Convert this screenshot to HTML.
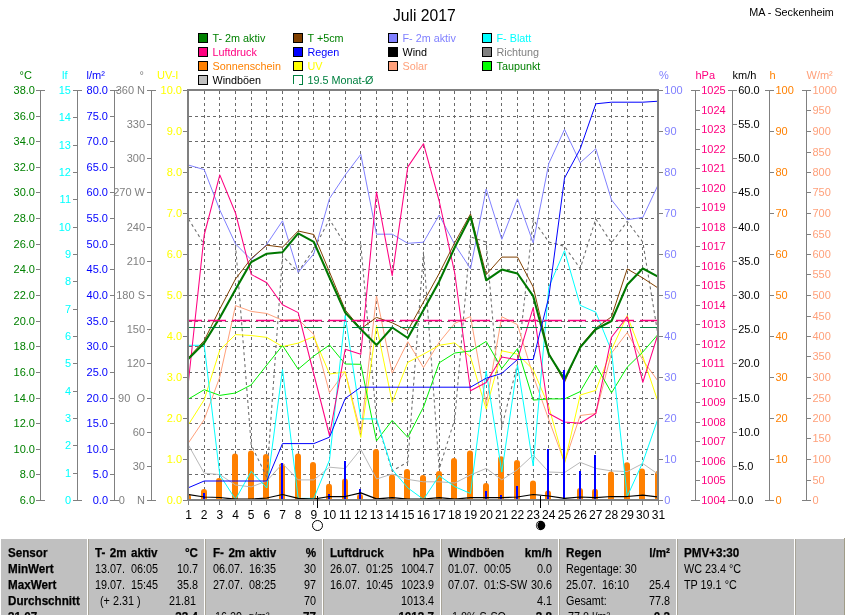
<!DOCTYPE html>
<html><head><meta charset="utf-8"><title>Juli 2017</title>
<style>
html,body{margin:0;padding:0;background:#fff;}
body{width:845px;height:615px;overflow:hidden;position:relative;font-family:"Liberation Sans",sans-serif;}
svg{position:absolute;left:0;top:0;}
#w{position:absolute;left:0;top:0;width:845px;height:615px;will-change:transform;}
text{font-family:"Liberation Sans",sans-serif;font-size:11px;}
.t{position:absolute;white-space:pre;font-size:12px;line-height:16px;color:#000;transform:scaleX(0.9);transform-origin:0 0;}
.b{font-weight:bold;transform:scaleX(0.97);word-spacing:1.2px;-webkit-text-stroke:0.25px #000;}
.r{text-align:right;transform-origin:100% 0;}
</style></head><body><div id="w">
<svg width="845" height="615" viewBox="0 0 845 615">

<text x="424.3" y="21" text-anchor="middle" style="font-size:15.7px" fill="#000">Juli 2017</text>
<text x="833.8" y="16" text-anchor="end" style="font-size:10.8px" fill="#000">MA - Seckenheim</text>
<rect x="198.5" y="33.5" width="9" height="9" fill="#008000" stroke="#000" stroke-width="1" shape-rendering="crispEdges"/>
<text x="212.5" y="41.5" fill="#008000" style="font-size:10.8px">T- 2m aktiv</text>
<rect x="198.5" y="47.5" width="9" height="9" fill="#FF0080" stroke="#000" stroke-width="1" shape-rendering="crispEdges"/>
<text x="212.5" y="55.5" fill="#FF0080" style="font-size:10.8px">Luftdruck</text>
<rect x="198.5" y="61.5" width="9" height="9" fill="#FF8000" stroke="#000" stroke-width="1" shape-rendering="crispEdges"/>
<text x="212.5" y="69.5" fill="#FF8000" style="font-size:10.8px">Sonnenschein</text>
<rect x="198.5" y="75.5" width="9" height="9" fill="#C0C0C0" stroke="#000" stroke-width="1" shape-rendering="crispEdges"/>
<text x="212.5" y="83.5" fill="#000" style="font-size:10.8px">Windböen</text>
<rect x="293.0" y="33.5" width="9" height="9" fill="#804000" stroke="#000" stroke-width="1" shape-rendering="crispEdges"/>
<text x="307.5" y="41.5" fill="#008000" style="font-size:10.8px">T +5cm</text>
<rect x="293.0" y="47.5" width="9" height="9" fill="#0000FF" stroke="#000" stroke-width="1" shape-rendering="crispEdges"/>
<text x="307.5" y="55.5" fill="#0000FF" style="font-size:10.8px">Regen</text>
<rect x="293.0" y="61.5" width="9" height="9" fill="#FFFF00" stroke="#000" stroke-width="1" shape-rendering="crispEdges"/>
<text x="307.5" y="69.5" fill="#FFFF00" style="font-size:10.8px">UV</text>
<path d="M293.5 84.0 v-8.5 h9 v9 h-3.5" fill="none" stroke="#008040" stroke-width="1" shape-rendering="crispEdges"/>
<text x="307.5" y="83.5" fill="#008040" style="font-size:10.8px">19.5 Monat-Ø</text>
<rect x="388.5" y="33.5" width="9" height="9" fill="#8080FF" stroke="#000" stroke-width="1" shape-rendering="crispEdges"/>
<text x="402.5" y="41.5" fill="#8080FF" style="font-size:10.8px">F- 2m aktiv</text>
<rect x="388.5" y="47.5" width="9" height="9" fill="#000000" stroke="#000" stroke-width="1" shape-rendering="crispEdges"/>
<text x="402.5" y="55.5" fill="#000" style="font-size:10.8px">Wind</text>
<rect x="388.5" y="61.5" width="9" height="9" fill="#FFA07A" stroke="#000" stroke-width="1" shape-rendering="crispEdges"/>
<text x="402.5" y="69.5" fill="#FFA07A" style="font-size:10.8px">Solar</text>
<rect x="482.0" y="33.5" width="9" height="9" fill="#00FFFF" stroke="#000" stroke-width="1" shape-rendering="crispEdges"/>
<text x="496.5" y="41.5" fill="#00FFFF" style="font-size:10.8px">F- Blatt</text>
<rect x="482.0" y="47.5" width="9" height="9" fill="#808080" stroke="#000" stroke-width="1" shape-rendering="crispEdges"/>
<text x="496.5" y="55.5" fill="#808080" style="font-size:10.8px">Richtung</text>
<rect x="482.0" y="61.5" width="9" height="9" fill="#00FF00" stroke="#000" stroke-width="1" shape-rendering="crispEdges"/>
<text x="496.5" y="69.5" fill="#008000" style="font-size:10.8px">Taupunkt</text>
<g stroke="#6a6a6a" stroke-width="1" stroke-dasharray="3 3" shape-rendering="crispEdges">
<line x1="204.5" y1="91" x2="204.5" y2="499"/>
<line x1="219.5" y1="91" x2="219.5" y2="499"/>
<line x1="235.5" y1="91" x2="235.5" y2="499"/>
<line x1="251.5" y1="91" x2="251.5" y2="499"/>
<line x1="266.5" y1="91" x2="266.5" y2="499"/>
<line x1="282.5" y1="91" x2="282.5" y2="499"/>
<line x1="298.5" y1="91" x2="298.5" y2="499"/>
<line x1="313.5" y1="91" x2="313.5" y2="499"/>
<line x1="329.5" y1="91" x2="329.5" y2="499"/>
<line x1="345.5" y1="91" x2="345.5" y2="499"/>
<line x1="360.5" y1="91" x2="360.5" y2="499"/>
<line x1="376.5" y1="91" x2="376.5" y2="499"/>
<line x1="392.5" y1="91" x2="392.5" y2="499"/>
<line x1="407.5" y1="91" x2="407.5" y2="499"/>
<line x1="423.5" y1="91" x2="423.5" y2="499"/>
<line x1="439.5" y1="91" x2="439.5" y2="499"/>
<line x1="454.5" y1="91" x2="454.5" y2="499"/>
<line x1="470.5" y1="91" x2="470.5" y2="499"/>
<line x1="486.5" y1="91" x2="486.5" y2="499"/>
<line x1="501.5" y1="91" x2="501.5" y2="499"/>
<line x1="517.5" y1="91" x2="517.5" y2="499"/>
<line x1="533.5" y1="91" x2="533.5" y2="499"/>
<line x1="548.5" y1="91" x2="548.5" y2="499"/>
<line x1="564.5" y1="91" x2="564.5" y2="499"/>
<line x1="580.5" y1="91" x2="580.5" y2="499"/>
<line x1="595.5" y1="91" x2="595.5" y2="499"/>
<line x1="611.5" y1="91" x2="611.5" y2="499"/>
<line x1="627.5" y1="91" x2="627.5" y2="499"/>
<line x1="642.5" y1="91" x2="642.5" y2="499"/>
<line x1="189" y1="116.5" x2="657" y2="116.5"/>
<line x1="189" y1="141.5" x2="657" y2="141.5"/>
<line x1="189" y1="167.5" x2="657" y2="167.5"/>
<line x1="189" y1="192.5" x2="657" y2="192.5"/>
<line x1="189" y1="218.5" x2="657" y2="218.5"/>
<line x1="189" y1="244.5" x2="657" y2="244.5"/>
<line x1="189" y1="269.5" x2="657" y2="269.5"/>
<line x1="189" y1="295.5" x2="657" y2="295.5"/>
<line x1="189" y1="321.5" x2="657" y2="321.5"/>
<line x1="189" y1="346.5" x2="657" y2="346.5"/>
<line x1="189" y1="372.5" x2="657" y2="372.5"/>
<line x1="189" y1="398.5" x2="657" y2="398.5"/>
<line x1="189" y1="423.5" x2="657" y2="423.5"/>
<line x1="189" y1="449.5" x2="657" y2="449.5"/>
<line x1="189" y1="474.5" x2="657" y2="474.5"/>
</g>
<defs><clipPath id="pc"><rect x="189" y="91" width="468" height="408"/></clipPath></defs>
<g clip-path="url(#pc)">
<g stroke="#FF8000" stroke-width="6" stroke-linecap="round">
<line x1="188.0" y1="497.0" x2="188.0" y2="504"/>
<line x1="204.0" y1="492.0" x2="204.0" y2="504"/>
<line x1="219.0" y1="481.0" x2="219.0" y2="504"/>
<line x1="235.0" y1="456.6" x2="235.0" y2="504"/>
<line x1="251.0" y1="453.6" x2="251.0" y2="504"/>
<line x1="266.0" y1="457.0" x2="266.0" y2="504"/>
<line x1="282.0" y1="466.3" x2="282.0" y2="504"/>
<line x1="298.0" y1="456.6" x2="298.0" y2="504"/>
<line x1="313.0" y1="465.0" x2="313.0" y2="504"/>
<line x1="329.0" y1="486.8" x2="329.0" y2="504"/>
<line x1="345.0" y1="481.5" x2="345.0" y2="504"/>
<line x1="360.0" y1="497.0" x2="360.0" y2="504"/>
<line x1="376.0" y1="451.9" x2="376.0" y2="504"/>
<line x1="392.0" y1="477.5" x2="392.0" y2="504"/>
<line x1="407.0" y1="472.1" x2="407.0" y2="504"/>
<line x1="423.0" y1="478.0" x2="423.0" y2="504"/>
<line x1="439.0" y1="473.9" x2="439.0" y2="504"/>
<line x1="454.0" y1="460.9" x2="454.0" y2="504"/>
<line x1="470.0" y1="453.6" x2="470.0" y2="504"/>
<line x1="486.0" y1="486.0" x2="486.0" y2="504"/>
<line x1="501.0" y1="459.2" x2="501.0" y2="504"/>
<line x1="517.0" y1="462.9" x2="517.0" y2="504"/>
<line x1="533.0" y1="483.6" x2="533.0" y2="504"/>
<line x1="548.0" y1="493.4" x2="548.0" y2="504"/>
<line x1="580.0" y1="491.0" x2="580.0" y2="504"/>
<line x1="595.0" y1="491.7" x2="595.0" y2="504"/>
<line x1="611.0" y1="474.6" x2="611.0" y2="504"/>
<line x1="627.0" y1="465.3" x2="627.0" y2="504"/>
<line x1="642.0" y1="471.4" x2="642.0" y2="504"/>
<line x1="658.0" y1="473.8" x2="658.0" y2="504"/>
</g>
<polyline points="188.5,219.0 204.2,244.5" fill="none" stroke="#6c6c6c" stroke-width="1.05" stroke-linejoin="round" stroke-dasharray="3 3"/>
<polyline points="235.5,244.5 251.2,445.0 266.8,477.0 282.5,256.0 298.2,272.0 313.8,249.0 329.5,219.5 345.2,244.5" fill="none" stroke="#6c6c6c" stroke-width="1.05" stroke-linejoin="round" stroke-dasharray="3 3"/>
<polyline points="360.8,244.5 376.5,420.0 392.2,471.0 407.8,462.0 423.5,252.0 439.2,469.0 454.8,419.0 470.5,237.0 486.2,242.0 501.8,427.0 517.5,364.0 533.2,219.7 548.8,242.0 564.5,246.3 580.2,268.6 595.8,218.9 611.5,242.9 627.2,221.4 642.8,242.0 658.5,338.0" fill="none" stroke="#6c6c6c" stroke-width="1.05" stroke-linejoin="round" stroke-dasharray="3 3"/>
<polyline points="188.5,445.2 204.2,473.2 219.8,474.6 235.5,485.0 251.2,486.9 266.8,481.0 282.5,463.6 298.2,479.9 313.8,479.9 329.5,467.2 345.2,468.6 360.8,449.2 376.5,479.0 392.2,474.0 407.8,479.4 423.5,481.8 439.2,481.8 454.8,483.0 470.5,475.0 486.2,468.4 501.8,479.9 517.5,469.6 533.2,455.0 548.8,472.0 564.5,472.6 580.2,462.3 595.8,468.4 611.5,470.9 627.2,471.6 642.8,463.5 658.5,474.5" fill="none" stroke="#B8B8B8" stroke-width="1" stroke-linejoin="round" />
<polyline points="188.5,442.8 204.2,419.6 219.8,377.0 235.5,305.6 251.2,311.4 266.8,313.5 282.5,320.3 298.2,319.3 313.8,334.5 329.5,392.7 345.2,371.5 360.8,433.0 376.5,296.0 392.2,373.1 407.8,341.7 423.5,367.6 439.2,342.3 454.8,323.3 470.5,316.5 486.2,404.5 501.8,316.7 517.5,324.7 533.2,375.7 548.8,419.6 564.5,462.3 580.2,415.5 595.8,413.5 611.5,353.1 627.2,332.6 642.8,360.0 658.5,381.8" fill="none" stroke="#FFA07A" stroke-width="1" stroke-linejoin="round" />
<polyline points="188.5,424.5 204.2,399.8 219.8,350.0 235.5,334.6 251.2,335.5 266.8,337.4 282.5,346.6 298.2,343.1 313.8,336.6 329.5,374.0 345.2,371.9 360.8,437.5 376.5,325.5 392.2,402.3 407.8,362.3 423.5,354.2 439.2,345.3 454.8,342.8 470.5,357.0 486.2,409.1 501.8,350.8 517.5,354.2 533.2,369.6 548.8,406.5 564.5,463.5 580.2,395.0 595.8,390.4 611.5,349.7 627.2,315.6 642.8,356.5 658.5,403.3" fill="none" stroke="#FFFF00" stroke-width="1.0" stroke-linejoin="round" />
<polyline points="188.5,399.0 204.2,389.7 219.8,395.4 235.5,393.0 251.2,384.9 266.8,365.0 282.5,345.5 298.2,369.2 313.8,356.0 329.5,345.0 345.2,364.0 360.8,364.3 376.5,440.9 392.2,420.4 407.8,437.4 423.5,407.0 439.2,362.8 454.8,353.0 470.5,351.0 486.2,341.4 501.8,368.5 517.5,348.6 533.2,400.1 548.8,398.9 564.5,398.9 580.2,391.6 595.8,365.2 611.5,392.8 627.2,367.2 642.8,352.0 658.5,333.8" fill="none" stroke="#00F000" stroke-width="1.0" stroke-linejoin="round" />
<polyline points="188.5,345.3 204.2,345.3 219.8,475.0 235.5,499.4 251.2,471.3 266.8,488.0 282.5,369.5 298.2,498.4 313.8,498.4 329.5,460.0 345.2,315.6 360.8,418.9 376.5,418.9 392.2,469.6 407.8,487.9 423.5,499.4 439.2,475.7 454.8,486.7 470.5,493.5 486.2,370.9 501.8,472.1 517.5,364.8 533.2,466.0 548.8,287.1 564.5,250.7 580.2,305.3 595.8,312.2 611.5,350.8 627.2,496.5 642.8,462.3 658.5,417.2" fill="none" stroke="#00FFFF" stroke-width="1.0" stroke-linejoin="round" />
<polyline points="188.5,165.1 204.2,169.6 219.8,210.0 235.5,243.9 251.2,259.7 266.8,244.2 282.5,220.8 298.2,272.3 313.8,253.9 329.5,198.5 345.2,175.0 360.8,154.4 376.5,234.2 392.2,234.2 407.8,243.3 423.5,242.2 439.2,215.0 454.8,244.6 470.5,268.7 486.2,189.0 501.8,239.3 517.5,198.8 533.2,242.8 548.8,163.5 564.5,129.4 580.2,162.8 595.8,148.7 611.5,199.9 627.2,219.7 642.8,217.4 658.5,184.0" fill="none" stroke="#8080FF" stroke-width="1" stroke-linejoin="round" />
<polyline points="188.5,381.0 204.2,235.0 219.8,174.9 235.5,213.0 251.2,274.4 266.8,282.8 282.5,304.8 298.2,312.6 313.8,374.0 329.5,435.5 345.2,349.3 360.8,354.3 376.5,191.9 392.2,275.7 407.8,166.9 423.5,143.7 439.2,201.0 454.8,273.5 470.5,390.8 486.2,382.5 501.8,357.0 517.5,359.9 533.2,307.6 548.8,413.5 564.5,422.0 580.2,423.3 595.8,413.5 611.5,337.2 627.2,316.7 642.8,382.3 658.5,332.6" fill="none" stroke="#FF0080" stroke-width="1.05" stroke-linejoin="round" />
<polyline points="188.5,357.6 204.2,340.6 219.8,309.0 235.5,279.0 251.2,258.5 266.8,245.2 282.5,247.2 298.2,231.0 313.8,234.5 329.5,272.0 345.2,309.9 360.8,328.8 376.5,317.4 392.2,322.8 407.8,330.5 423.5,302.0 439.2,273.4 454.8,242.6 470.5,214.0 486.2,274.6 501.8,257.1 517.5,257.1 533.2,287.0 548.8,353.0 564.5,382.3 580.2,346.3 595.8,328.0 611.5,316.8 627.2,268.9 642.8,278.0 658.5,288.3" fill="none" stroke="#804000" stroke-width="1.0" stroke-linejoin="round" />
<polyline points="188.5,358.8 204.2,342.9 219.8,317.8 235.5,289.5 251.2,262.1 266.8,253.7 282.5,252.2 298.2,233.4 313.8,241.8 329.5,277.5 345.2,312.5 360.8,329.2 376.5,345.1 392.2,327.5 407.8,338.0 423.5,309.9 439.2,281.4 454.8,247.3 470.5,216.6 486.2,280.3 501.8,269.6 517.5,273.5 533.2,296.2 548.8,354.2 564.5,379.4 580.2,347.4 595.8,329.2 611.5,321.0 627.2,284.8 642.8,268.5 658.5,276.9" fill="none" stroke="#007800" stroke-width="2.1" stroke-linejoin="round" />
<polyline points="188.5,487.7 204.2,481.0 219.8,481.0 235.5,481.0 251.2,481.0 266.8,481.0 282.5,443.6 298.2,443.6 313.8,443.6 329.5,437.2 345.2,398.5 360.8,387.2 376.5,387.2 392.2,387.2 407.8,387.2 423.5,387.2 439.2,387.2 454.8,387.2 470.5,387.2 486.2,378.2 501.8,373.4 517.5,359.5 533.2,359.5 548.8,297.0 564.5,178.1 580.2,148.9 595.8,103.8 611.5,102.2 627.2,102.2 642.8,102.2 658.5,101.2" fill="none" stroke="#0000FF" stroke-width="1.0" stroke-linejoin="round" />
<g stroke="#0000FF" stroke-width="2" shape-rendering="crispEdges">
<line x1="204.0" y1="493.3" x2="204.0" y2="500"/>
<line x1="282.0" y1="462.6" x2="282.0" y2="500"/>
<line x1="329.0" y1="493.6" x2="329.0" y2="500"/>
<line x1="345.0" y1="461.3" x2="345.0" y2="500"/>
<line x1="360.0" y1="488.7" x2="360.0" y2="500"/>
<line x1="486.0" y1="491.0" x2="486.0" y2="500"/>
<line x1="501.0" y1="495.1" x2="501.0" y2="500"/>
<line x1="517.0" y1="486.2" x2="517.0" y2="500"/>
<line x1="548.0" y1="448.8" x2="548.0" y2="500"/>
<line x1="564.0" y1="369.8" x2="564.0" y2="500"/>
<line x1="580.0" y1="470.8" x2="580.0" y2="500"/>
<line x1="595.0" y1="454.9" x2="595.0" y2="500"/>
<line x1="611.0" y1="498.5" x2="611.0" y2="500"/>
</g>
<polyline points="188.5,494.5 204.2,497.0 219.8,497.5 235.5,499.2 251.2,499.2 266.8,498.0 282.5,494.5 298.2,498.4 313.8,499.0 329.5,496.5 345.2,496.5 360.8,492.8 376.5,498.9 392.2,497.7 407.8,499.0 423.5,499.0 439.2,497.7 454.8,499.0 470.5,497.7 486.2,497.7 501.8,497.7 517.5,497.0 533.2,494.5 548.8,496.0 564.5,498.4 580.2,497.0 595.8,497.7 611.5,496.5 627.2,496.5 642.8,495.2 658.5,497.0" fill="none" stroke="#000" stroke-width="1.25" stroke-linejoin="round" />
<line x1="189" y1="320.5" x2="657" y2="320.5" stroke="#FF0080" stroke-width="1.6" stroke-dasharray="18 6" stroke-dashoffset="5" />
<line x1="189" y1="327.5" x2="657" y2="327.5" stroke="#008040" stroke-width="1" stroke-dasharray="18 6" stroke-dashoffset="5" shape-rendering="crispEdges"/>
</g>
<g fill="#808080" shape-rendering="crispEdges">
<rect x="187" y="89" width="2" height="412"/>
<rect x="187" y="89" width="472" height="2"/>
<rect x="657" y="89" width="2" height="412"/>
<rect x="187" y="499" width="472" height="2"/>
</g>
<g stroke="#808080" stroke-width="1" shape-rendering="crispEdges">
<line x1="40.5" y1="90" x2="40.5" y2="500"/>
<line x1="36.0" y1="90.5" x2="45.0" y2="90.5"/>
<line x1="36.0" y1="116.5" x2="40.0" y2="116.5"/>
<line x1="36.0" y1="141.5" x2="40.0" y2="141.5"/>
<line x1="36.0" y1="167.5" x2="40.0" y2="167.5"/>
<line x1="36.0" y1="192.5" x2="40.0" y2="192.5"/>
<line x1="36.0" y1="218.5" x2="40.0" y2="218.5"/>
<line x1="36.0" y1="244.5" x2="40.0" y2="244.5"/>
<line x1="36.0" y1="269.5" x2="40.0" y2="269.5"/>
<line x1="36.0" y1="295.5" x2="40.0" y2="295.5"/>
<line x1="36.0" y1="321.5" x2="40.0" y2="321.5"/>
<line x1="36.0" y1="346.5" x2="40.0" y2="346.5"/>
<line x1="36.0" y1="372.5" x2="40.0" y2="372.5"/>
<line x1="36.0" y1="398.5" x2="40.0" y2="398.5"/>
<line x1="36.0" y1="423.5" x2="40.0" y2="423.5"/>
<line x1="36.0" y1="449.5" x2="40.0" y2="449.5"/>
<line x1="36.0" y1="474.5" x2="40.0" y2="474.5"/>
<line x1="36.0" y1="500.5" x2="45.0" y2="500.5"/>
</g>
<g fill="#008000">
<text x="35.0" y="94.4" text-anchor="end">38.0</text>
<text x="35.0" y="120.4" text-anchor="end">36.0</text>
<text x="35.0" y="145.4" text-anchor="end">34.0</text>
<text x="35.0" y="171.4" text-anchor="end">32.0</text>
<text x="35.0" y="196.4" text-anchor="end">30.0</text>
<text x="35.0" y="222.4" text-anchor="end">28.0</text>
<text x="35.0" y="248.4" text-anchor="end">26.0</text>
<text x="35.0" y="273.4" text-anchor="end">24.0</text>
<text x="35.0" y="299.4" text-anchor="end">22.0</text>
<text x="35.0" y="325.4" text-anchor="end">20.0</text>
<text x="35.0" y="350.4" text-anchor="end">18.0</text>
<text x="35.0" y="376.4" text-anchor="end">16.0</text>
<text x="35.0" y="402.4" text-anchor="end">14.0</text>
<text x="35.0" y="427.4" text-anchor="end">12.0</text>
<text x="35.0" y="453.4" text-anchor="end">10.0</text>
<text x="35.0" y="478.4" text-anchor="end">8.0</text>
<text x="35.0" y="504.4" text-anchor="end">6.0</text>
<text x="19.5" y="79" text-anchor="start">°C</text>
</g>
<g stroke="#808080" stroke-width="1" shape-rendering="crispEdges">
<line x1="77.5" y1="90" x2="77.5" y2="500"/>
<line x1="73.0" y1="90.5" x2="82.0" y2="90.5"/>
<line x1="73.0" y1="117.5" x2="77.0" y2="117.5"/>
<line x1="73.0" y1="145.5" x2="77.0" y2="145.5"/>
<line x1="73.0" y1="172.5" x2="77.0" y2="172.5"/>
<line x1="73.0" y1="199.5" x2="77.0" y2="199.5"/>
<line x1="73.0" y1="227.5" x2="77.0" y2="227.5"/>
<line x1="73.0" y1="254.5" x2="77.0" y2="254.5"/>
<line x1="73.0" y1="281.5" x2="77.0" y2="281.5"/>
<line x1="73.0" y1="309.5" x2="77.0" y2="309.5"/>
<line x1="73.0" y1="336.5" x2="77.0" y2="336.5"/>
<line x1="73.0" y1="363.5" x2="77.0" y2="363.5"/>
<line x1="73.0" y1="391.5" x2="77.0" y2="391.5"/>
<line x1="73.0" y1="418.5" x2="77.0" y2="418.5"/>
<line x1="73.0" y1="445.5" x2="77.0" y2="445.5"/>
<line x1="73.0" y1="473.5" x2="77.0" y2="473.5"/>
<line x1="73.0" y1="500.5" x2="82.0" y2="500.5"/>
</g>
<g fill="#00FFFF">
<text x="71.0" y="94.4" text-anchor="end">15</text>
<text x="71.0" y="121.4" text-anchor="end">14</text>
<text x="71.0" y="149.4" text-anchor="end">13</text>
<text x="71.0" y="176.4" text-anchor="end">12</text>
<text x="71.0" y="203.4" text-anchor="end">11</text>
<text x="71.0" y="231.4" text-anchor="end">10</text>
<text x="71.0" y="258.4" text-anchor="end">9</text>
<text x="71.0" y="285.4" text-anchor="end">8</text>
<text x="71.0" y="313.4" text-anchor="end">7</text>
<text x="71.0" y="340.4" text-anchor="end">6</text>
<text x="71.0" y="367.4" text-anchor="end">5</text>
<text x="71.0" y="395.4" text-anchor="end">4</text>
<text x="71.0" y="422.4" text-anchor="end">3</text>
<text x="71.0" y="449.4" text-anchor="end">2</text>
<text x="71.0" y="477.4" text-anchor="end">1</text>
<text x="71.0" y="504.4" text-anchor="end">0</text>
<text x="62.0" y="79" text-anchor="start">lf</text>
</g>
<g stroke="#808080" stroke-width="1" shape-rendering="crispEdges">
<line x1="114.5" y1="90" x2="114.5" y2="500"/>
<line x1="110.0" y1="90.5" x2="119.0" y2="90.5"/>
<line x1="110.0" y1="116.5" x2="114.0" y2="116.5"/>
<line x1="110.0" y1="141.5" x2="114.0" y2="141.5"/>
<line x1="110.0" y1="167.5" x2="114.0" y2="167.5"/>
<line x1="110.0" y1="192.5" x2="114.0" y2="192.5"/>
<line x1="110.0" y1="218.5" x2="114.0" y2="218.5"/>
<line x1="110.0" y1="244.5" x2="114.0" y2="244.5"/>
<line x1="110.0" y1="269.5" x2="114.0" y2="269.5"/>
<line x1="110.0" y1="295.5" x2="114.0" y2="295.5"/>
<line x1="110.0" y1="321.5" x2="114.0" y2="321.5"/>
<line x1="110.0" y1="346.5" x2="114.0" y2="346.5"/>
<line x1="110.0" y1="372.5" x2="114.0" y2="372.5"/>
<line x1="110.0" y1="398.5" x2="114.0" y2="398.5"/>
<line x1="110.0" y1="423.5" x2="114.0" y2="423.5"/>
<line x1="110.0" y1="449.5" x2="114.0" y2="449.5"/>
<line x1="110.0" y1="474.5" x2="114.0" y2="474.5"/>
<line x1="110.0" y1="500.5" x2="119.0" y2="500.5"/>
</g>
<g fill="#0000FF">
<text x="108.0" y="94.4" text-anchor="end">80.0</text>
<text x="108.0" y="120.4" text-anchor="end">75.0</text>
<text x="108.0" y="145.4" text-anchor="end">70.0</text>
<text x="108.0" y="171.4" text-anchor="end">65.0</text>
<text x="108.0" y="196.4" text-anchor="end">60.0</text>
<text x="108.0" y="222.4" text-anchor="end">55.0</text>
<text x="108.0" y="248.4" text-anchor="end">50.0</text>
<text x="108.0" y="273.4" text-anchor="end">45.0</text>
<text x="108.0" y="299.4" text-anchor="end">40.0</text>
<text x="108.0" y="325.4" text-anchor="end">35.0</text>
<text x="108.0" y="350.4" text-anchor="end">30.0</text>
<text x="108.0" y="376.4" text-anchor="end">25.0</text>
<text x="108.0" y="402.4" text-anchor="end">20.0</text>
<text x="108.0" y="427.4" text-anchor="end">15.0</text>
<text x="108.0" y="453.4" text-anchor="end">10.0</text>
<text x="108.0" y="478.4" text-anchor="end">5.0</text>
<text x="108.0" y="504.4" text-anchor="end">0.0</text>
<text x="86.5" y="79" text-anchor="start">l/m²</text>
</g>
<g stroke="#808080" stroke-width="1" shape-rendering="crispEdges">
<line x1="151.5" y1="90" x2="151.5" y2="500"/>
<line x1="147.0" y1="90.5" x2="156.0" y2="90.5"/>
<line x1="147.0" y1="124.5" x2="151.0" y2="124.5"/>
<line x1="147.0" y1="158.5" x2="151.0" y2="158.5"/>
<line x1="147.0" y1="192.5" x2="151.0" y2="192.5"/>
<line x1="147.0" y1="227.5" x2="151.0" y2="227.5"/>
<line x1="147.0" y1="261.5" x2="151.0" y2="261.5"/>
<line x1="147.0" y1="295.5" x2="151.0" y2="295.5"/>
<line x1="147.0" y1="329.5" x2="151.0" y2="329.5"/>
<line x1="147.0" y1="363.5" x2="151.0" y2="363.5"/>
<line x1="147.0" y1="398.5" x2="151.0" y2="398.5"/>
<line x1="147.0" y1="432.5" x2="151.0" y2="432.5"/>
<line x1="147.0" y1="466.5" x2="151.0" y2="466.5"/>
<line x1="147.0" y1="500.5" x2="156.0" y2="500.5"/>
</g>
<g fill="#808080">
<text x="145.0" y="94.4" text-anchor="end">360 N</text>
<text x="145.0" y="128.4" text-anchor="end">330</text>
<text x="145.0" y="162.4" text-anchor="end">300</text>
<text x="145.0" y="196.4" text-anchor="end">270 W</text>
<text x="145.0" y="231.4" text-anchor="end">240</text>
<text x="145.0" y="265.4" text-anchor="end">210</text>
<text x="145.0" y="299.4" text-anchor="end">180 S</text>
<text x="145.0" y="333.4" text-anchor="end">150</text>
<text x="145.0" y="367.4" text-anchor="end">120</text>
<text x="145.0" y="402.4" text-anchor="end">90  O</text>
<text x="145.0" y="436.4" text-anchor="end">60</text>
<text x="145.0" y="470.4" text-anchor="end">30</text>
<text x="145.0" y="504.4" text-anchor="end">0    N</text>
<text x="139.5" y="79" text-anchor="start">°</text>
</g>
<g stroke="#808080" stroke-width="1" shape-rendering="crispEdges">
<line x1="183.0" y1="90.5" x2="187.0" y2="90.5"/>
<line x1="183.0" y1="131.5" x2="187.0" y2="131.5"/>
<line x1="183.0" y1="172.5" x2="187.0" y2="172.5"/>
<line x1="183.0" y1="213.5" x2="187.0" y2="213.5"/>
<line x1="183.0" y1="254.5" x2="187.0" y2="254.5"/>
<line x1="183.0" y1="295.5" x2="187.0" y2="295.5"/>
<line x1="183.0" y1="336.5" x2="187.0" y2="336.5"/>
<line x1="183.0" y1="377.5" x2="187.0" y2="377.5"/>
<line x1="183.0" y1="418.5" x2="187.0" y2="418.5"/>
<line x1="183.0" y1="459.5" x2="187.0" y2="459.5"/>
<line x1="183.0" y1="500.5" x2="187.0" y2="500.5"/>
</g>
<g fill="#FFFF00">
<text x="182.0" y="94.4" text-anchor="end">10.0</text>
<text x="182.0" y="135.4" text-anchor="end">9.0</text>
<text x="182.0" y="176.4" text-anchor="end">8.0</text>
<text x="182.0" y="217.4" text-anchor="end">7.0</text>
<text x="182.0" y="258.4" text-anchor="end">6.0</text>
<text x="182.0" y="299.4" text-anchor="end">5.0</text>
<text x="182.0" y="340.4" text-anchor="end">4.0</text>
<text x="182.0" y="381.4" text-anchor="end">3.0</text>
<text x="182.0" y="422.4" text-anchor="end">2.0</text>
<text x="182.0" y="463.4" text-anchor="end">1.0</text>
<text x="182.0" y="504.4" text-anchor="end">0.0</text>
<text x="157.0" y="79" text-anchor="start">UV-I</text>
</g>
<g stroke="#808080" stroke-width="1" shape-rendering="crispEdges">
<line x1="659.0" y1="90.5" x2="663.0" y2="90.5"/>
<line x1="659.0" y1="131.5" x2="663.0" y2="131.5"/>
<line x1="659.0" y1="172.5" x2="663.0" y2="172.5"/>
<line x1="659.0" y1="213.5" x2="663.0" y2="213.5"/>
<line x1="659.0" y1="254.5" x2="663.0" y2="254.5"/>
<line x1="659.0" y1="295.5" x2="663.0" y2="295.5"/>
<line x1="659.0" y1="336.5" x2="663.0" y2="336.5"/>
<line x1="659.0" y1="377.5" x2="663.0" y2="377.5"/>
<line x1="659.0" y1="418.5" x2="663.0" y2="418.5"/>
<line x1="659.0" y1="459.5" x2="663.0" y2="459.5"/>
<line x1="659.0" y1="500.5" x2="663.0" y2="500.5"/>
</g>
<g fill="#8080FF">
<text x="664.3" y="94.4" text-anchor="start">100</text>
<text x="664.3" y="135.4" text-anchor="start">90</text>
<text x="664.3" y="176.4" text-anchor="start">80</text>
<text x="664.3" y="217.4" text-anchor="start">70</text>
<text x="664.3" y="258.4" text-anchor="start">60</text>
<text x="664.3" y="299.4" text-anchor="start">50</text>
<text x="664.3" y="340.4" text-anchor="start">40</text>
<text x="664.3" y="381.4" text-anchor="start">30</text>
<text x="664.3" y="422.4" text-anchor="start">20</text>
<text x="664.3" y="463.4" text-anchor="start">10</text>
<text x="664.3" y="504.4" text-anchor="start">0</text>
<text x="659.0" y="79" text-anchor="start">%</text>
</g>
<g stroke="#808080" stroke-width="1" shape-rendering="crispEdges">
<line x1="695.5" y1="90" x2="695.5" y2="500"/>
<line x1="691.0" y1="90.5" x2="700.0" y2="90.5"/>
<line x1="696.0" y1="110.5" x2="700.0" y2="110.5"/>
<line x1="696.0" y1="129.5" x2="700.0" y2="129.5"/>
<line x1="696.0" y1="149.5" x2="700.0" y2="149.5"/>
<line x1="696.0" y1="168.5" x2="700.0" y2="168.5"/>
<line x1="696.0" y1="188.5" x2="700.0" y2="188.5"/>
<line x1="696.0" y1="207.5" x2="700.0" y2="207.5"/>
<line x1="696.0" y1="227.5" x2="700.0" y2="227.5"/>
<line x1="696.0" y1="246.5" x2="700.0" y2="246.5"/>
<line x1="696.0" y1="266.5" x2="700.0" y2="266.5"/>
<line x1="696.0" y1="285.5" x2="700.0" y2="285.5"/>
<line x1="696.0" y1="305.5" x2="700.0" y2="305.5"/>
<line x1="696.0" y1="324.5" x2="700.0" y2="324.5"/>
<line x1="696.0" y1="344.5" x2="700.0" y2="344.5"/>
<line x1="696.0" y1="363.5" x2="700.0" y2="363.5"/>
<line x1="696.0" y1="383.5" x2="700.0" y2="383.5"/>
<line x1="696.0" y1="402.5" x2="700.0" y2="402.5"/>
<line x1="696.0" y1="422.5" x2="700.0" y2="422.5"/>
<line x1="696.0" y1="441.5" x2="700.0" y2="441.5"/>
<line x1="696.0" y1="461.5" x2="700.0" y2="461.5"/>
<line x1="696.0" y1="480.5" x2="700.0" y2="480.5"/>
<line x1="691.0" y1="500.5" x2="700.0" y2="500.5"/>
</g>
<g fill="#FF0080">
<text x="701.2" y="94.4" text-anchor="start">1025</text>
<text x="701.2" y="114.4" text-anchor="start">1024</text>
<text x="701.2" y="133.4" text-anchor="start">1023</text>
<text x="701.2" y="153.4" text-anchor="start">1022</text>
<text x="701.2" y="172.4" text-anchor="start">1021</text>
<text x="701.2" y="192.4" text-anchor="start">1020</text>
<text x="701.2" y="211.4" text-anchor="start">1019</text>
<text x="701.2" y="231.4" text-anchor="start">1018</text>
<text x="701.2" y="250.4" text-anchor="start">1017</text>
<text x="701.2" y="270.4" text-anchor="start">1016</text>
<text x="701.2" y="289.4" text-anchor="start">1015</text>
<text x="701.2" y="309.4" text-anchor="start">1014</text>
<text x="701.2" y="328.4" text-anchor="start">1013</text>
<text x="701.2" y="348.4" text-anchor="start">1012</text>
<text x="701.2" y="367.4" text-anchor="start">1011</text>
<text x="701.2" y="387.4" text-anchor="start">1010</text>
<text x="701.2" y="406.4" text-anchor="start">1009</text>
<text x="701.2" y="426.4" text-anchor="start">1008</text>
<text x="701.2" y="445.4" text-anchor="start">1007</text>
<text x="701.2" y="465.4" text-anchor="start">1006</text>
<text x="701.2" y="484.4" text-anchor="start">1005</text>
<text x="701.2" y="504.4" text-anchor="start">1004</text>
<text x="695.5" y="79" text-anchor="start">hPa</text>
</g>
<g stroke="#808080" stroke-width="1" shape-rendering="crispEdges">
<line x1="732.5" y1="90" x2="732.5" y2="500"/>
<line x1="728.0" y1="90.5" x2="737.0" y2="90.5"/>
<line x1="733.0" y1="124.5" x2="737.0" y2="124.5"/>
<line x1="733.0" y1="158.5" x2="737.0" y2="158.5"/>
<line x1="733.0" y1="192.5" x2="737.0" y2="192.5"/>
<line x1="733.0" y1="227.5" x2="737.0" y2="227.5"/>
<line x1="733.0" y1="261.5" x2="737.0" y2="261.5"/>
<line x1="733.0" y1="295.5" x2="737.0" y2="295.5"/>
<line x1="733.0" y1="329.5" x2="737.0" y2="329.5"/>
<line x1="733.0" y1="363.5" x2="737.0" y2="363.5"/>
<line x1="733.0" y1="398.5" x2="737.0" y2="398.5"/>
<line x1="733.0" y1="432.5" x2="737.0" y2="432.5"/>
<line x1="733.0" y1="466.5" x2="737.0" y2="466.5"/>
<line x1="728.0" y1="500.5" x2="737.0" y2="500.5"/>
</g>
<g fill="#000">
<text x="738.2" y="94.4" text-anchor="start">60.0</text>
<text x="738.2" y="128.4" text-anchor="start">55.0</text>
<text x="738.2" y="162.4" text-anchor="start">50.0</text>
<text x="738.2" y="196.4" text-anchor="start">45.0</text>
<text x="738.2" y="231.4" text-anchor="start">40.0</text>
<text x="738.2" y="265.4" text-anchor="start">35.0</text>
<text x="738.2" y="299.4" text-anchor="start">30.0</text>
<text x="738.2" y="333.4" text-anchor="start">25.0</text>
<text x="738.2" y="367.4" text-anchor="start">20.0</text>
<text x="738.2" y="402.4" text-anchor="start">15.0</text>
<text x="738.2" y="436.4" text-anchor="start">10.0</text>
<text x="738.2" y="470.4" text-anchor="start">5.0</text>
<text x="738.2" y="504.4" text-anchor="start">0.0</text>
<text x="732.5" y="79" text-anchor="start">km/h</text>
</g>
<g stroke="#808080" stroke-width="1" shape-rendering="crispEdges">
<line x1="769.5" y1="90" x2="769.5" y2="500"/>
<line x1="765.0" y1="90.5" x2="774.0" y2="90.5"/>
<line x1="770.0" y1="131.5" x2="774.0" y2="131.5"/>
<line x1="770.0" y1="172.5" x2="774.0" y2="172.5"/>
<line x1="770.0" y1="213.5" x2="774.0" y2="213.5"/>
<line x1="770.0" y1="254.5" x2="774.0" y2="254.5"/>
<line x1="770.0" y1="295.5" x2="774.0" y2="295.5"/>
<line x1="770.0" y1="336.5" x2="774.0" y2="336.5"/>
<line x1="770.0" y1="377.5" x2="774.0" y2="377.5"/>
<line x1="770.0" y1="418.5" x2="774.0" y2="418.5"/>
<line x1="770.0" y1="459.5" x2="774.0" y2="459.5"/>
<line x1="765.0" y1="500.5" x2="774.0" y2="500.5"/>
</g>
<g fill="#FF8000">
<text x="775.4" y="94.4" text-anchor="start">100</text>
<text x="775.4" y="135.4" text-anchor="start">90</text>
<text x="775.4" y="176.4" text-anchor="start">80</text>
<text x="775.4" y="217.4" text-anchor="start">70</text>
<text x="775.4" y="258.4" text-anchor="start">60</text>
<text x="775.4" y="299.4" text-anchor="start">50</text>
<text x="775.4" y="340.4" text-anchor="start">40</text>
<text x="775.4" y="381.4" text-anchor="start">30</text>
<text x="775.4" y="422.4" text-anchor="start">20</text>
<text x="775.4" y="463.4" text-anchor="start">10</text>
<text x="775.4" y="504.4" text-anchor="start">0</text>
<text x="769.5" y="79" text-anchor="start">h</text>
</g>
<g stroke="#808080" stroke-width="1" shape-rendering="crispEdges">
<line x1="806.5" y1="90" x2="806.5" y2="500"/>
<line x1="802.0" y1="90.5" x2="811.0" y2="90.5"/>
<line x1="807.0" y1="110.5" x2="811.0" y2="110.5"/>
<line x1="807.0" y1="131.5" x2="811.0" y2="131.5"/>
<line x1="807.0" y1="152.5" x2="811.0" y2="152.5"/>
<line x1="807.0" y1="172.5" x2="811.0" y2="172.5"/>
<line x1="807.0" y1="192.5" x2="811.0" y2="192.5"/>
<line x1="807.0" y1="213.5" x2="811.0" y2="213.5"/>
<line x1="807.0" y1="234.5" x2="811.0" y2="234.5"/>
<line x1="807.0" y1="254.5" x2="811.0" y2="254.5"/>
<line x1="807.0" y1="274.5" x2="811.0" y2="274.5"/>
<line x1="807.0" y1="295.5" x2="811.0" y2="295.5"/>
<line x1="807.0" y1="316.5" x2="811.0" y2="316.5"/>
<line x1="807.0" y1="336.5" x2="811.0" y2="336.5"/>
<line x1="807.0" y1="356.5" x2="811.0" y2="356.5"/>
<line x1="807.0" y1="377.5" x2="811.0" y2="377.5"/>
<line x1="807.0" y1="398.5" x2="811.0" y2="398.5"/>
<line x1="807.0" y1="418.5" x2="811.0" y2="418.5"/>
<line x1="807.0" y1="438.5" x2="811.0" y2="438.5"/>
<line x1="807.0" y1="459.5" x2="811.0" y2="459.5"/>
<line x1="807.0" y1="480.5" x2="811.0" y2="480.5"/>
<line x1="802.0" y1="500.5" x2="811.0" y2="500.5"/>
</g>
<g fill="#FFA07A">
<text x="812.4" y="94.4" text-anchor="start">1000</text>
<text x="812.4" y="114.4" text-anchor="start">950</text>
<text x="812.4" y="135.4" text-anchor="start">900</text>
<text x="812.4" y="156.4" text-anchor="start">850</text>
<text x="812.4" y="176.4" text-anchor="start">800</text>
<text x="812.4" y="196.4" text-anchor="start">750</text>
<text x="812.4" y="217.4" text-anchor="start">700</text>
<text x="812.4" y="238.4" text-anchor="start">650</text>
<text x="812.4" y="258.4" text-anchor="start">600</text>
<text x="812.4" y="278.4" text-anchor="start">550</text>
<text x="812.4" y="299.4" text-anchor="start">500</text>
<text x="812.4" y="320.4" text-anchor="start">450</text>
<text x="812.4" y="340.4" text-anchor="start">400</text>
<text x="812.4" y="360.4" text-anchor="start">350</text>
<text x="812.4" y="381.4" text-anchor="start">300</text>
<text x="812.4" y="402.4" text-anchor="start">250</text>
<text x="812.4" y="422.4" text-anchor="start">200</text>
<text x="812.4" y="442.4" text-anchor="start">150</text>
<text x="812.4" y="463.4" text-anchor="start">100</text>
<text x="812.4" y="484.4" text-anchor="start">50</text>
<text x="812.4" y="504.4" text-anchor="start">0</text>
<text x="806.5" y="79" text-anchor="start">W/m²</text>
</g>
<g fill="#000" style="font-size:12px">
<text x="188.5" y="518.5" text-anchor="middle" style="font-size:12px">1</text>
<rect x="188" y="501" width="1" height="4" fill="#808080" shape-rendering="crispEdges"/>
<text x="204.2" y="518.5" text-anchor="middle" style="font-size:12px">2</text>
<rect x="204" y="501" width="1" height="4" fill="#808080" shape-rendering="crispEdges"/>
<text x="219.8" y="518.5" text-anchor="middle" style="font-size:12px">3</text>
<rect x="219" y="501" width="1" height="4" fill="#808080" shape-rendering="crispEdges"/>
<text x="235.5" y="518.5" text-anchor="middle" style="font-size:12px">4</text>
<rect x="235" y="501" width="1" height="4" fill="#808080" shape-rendering="crispEdges"/>
<text x="251.2" y="518.5" text-anchor="middle" style="font-size:12px">5</text>
<rect x="251" y="501" width="1" height="4" fill="#808080" shape-rendering="crispEdges"/>
<text x="266.8" y="518.5" text-anchor="middle" style="font-size:12px">6</text>
<rect x="266" y="501" width="1" height="4" fill="#808080" shape-rendering="crispEdges"/>
<text x="282.5" y="518.5" text-anchor="middle" style="font-size:12px">7</text>
<rect x="282" y="501" width="1" height="4" fill="#808080" shape-rendering="crispEdges"/>
<text x="298.2" y="518.5" text-anchor="middle" style="font-size:12px">8</text>
<rect x="298" y="501" width="1" height="4" fill="#808080" shape-rendering="crispEdges"/>
<text x="313.8" y="518.5" text-anchor="middle" style="font-size:12px">9</text>
<rect x="313" y="501" width="1" height="4" fill="#808080" shape-rendering="crispEdges"/>
<text x="329.5" y="518.5" text-anchor="middle" style="font-size:12px">10</text>
<rect x="329" y="501" width="1" height="4" fill="#808080" shape-rendering="crispEdges"/>
<text x="345.2" y="518.5" text-anchor="middle" style="font-size:12px">11</text>
<rect x="345" y="501" width="1" height="4" fill="#808080" shape-rendering="crispEdges"/>
<text x="360.8" y="518.5" text-anchor="middle" style="font-size:12px">12</text>
<rect x="360" y="501" width="1" height="4" fill="#808080" shape-rendering="crispEdges"/>
<text x="376.5" y="518.5" text-anchor="middle" style="font-size:12px">13</text>
<rect x="376" y="501" width="1" height="4" fill="#808080" shape-rendering="crispEdges"/>
<text x="392.2" y="518.5" text-anchor="middle" style="font-size:12px">14</text>
<rect x="392" y="501" width="1" height="4" fill="#808080" shape-rendering="crispEdges"/>
<text x="407.8" y="518.5" text-anchor="middle" style="font-size:12px">15</text>
<rect x="407" y="501" width="1" height="4" fill="#808080" shape-rendering="crispEdges"/>
<text x="423.5" y="518.5" text-anchor="middle" style="font-size:12px">16</text>
<rect x="423" y="501" width="1" height="4" fill="#808080" shape-rendering="crispEdges"/>
<text x="439.2" y="518.5" text-anchor="middle" style="font-size:12px">17</text>
<rect x="439" y="501" width="1" height="4" fill="#808080" shape-rendering="crispEdges"/>
<text x="454.8" y="518.5" text-anchor="middle" style="font-size:12px">18</text>
<rect x="454" y="501" width="1" height="4" fill="#808080" shape-rendering="crispEdges"/>
<text x="470.5" y="518.5" text-anchor="middle" style="font-size:12px">19</text>
<rect x="470" y="501" width="1" height="4" fill="#808080" shape-rendering="crispEdges"/>
<text x="486.2" y="518.5" text-anchor="middle" style="font-size:12px">20</text>
<rect x="486" y="501" width="1" height="4" fill="#808080" shape-rendering="crispEdges"/>
<text x="501.8" y="518.5" text-anchor="middle" style="font-size:12px">21</text>
<rect x="501" y="501" width="1" height="4" fill="#808080" shape-rendering="crispEdges"/>
<text x="517.5" y="518.5" text-anchor="middle" style="font-size:12px">22</text>
<rect x="517" y="501" width="1" height="4" fill="#808080" shape-rendering="crispEdges"/>
<text x="533.2" y="518.5" text-anchor="middle" style="font-size:12px">23</text>
<rect x="533" y="501" width="1" height="4" fill="#808080" shape-rendering="crispEdges"/>
<text x="548.8" y="518.5" text-anchor="middle" style="font-size:12px">24</text>
<rect x="548" y="501" width="1" height="4" fill="#808080" shape-rendering="crispEdges"/>
<text x="564.5" y="518.5" text-anchor="middle" style="font-size:12px">25</text>
<rect x="564" y="501" width="1" height="4" fill="#808080" shape-rendering="crispEdges"/>
<text x="580.2" y="518.5" text-anchor="middle" style="font-size:12px">26</text>
<rect x="580" y="501" width="1" height="4" fill="#808080" shape-rendering="crispEdges"/>
<text x="595.8" y="518.5" text-anchor="middle" style="font-size:12px">27</text>
<rect x="595" y="501" width="1" height="4" fill="#808080" shape-rendering="crispEdges"/>
<text x="611.5" y="518.5" text-anchor="middle" style="font-size:12px">28</text>
<rect x="611" y="501" width="1" height="4" fill="#808080" shape-rendering="crispEdges"/>
<text x="627.2" y="518.5" text-anchor="middle" style="font-size:12px">29</text>
<rect x="627" y="501" width="1" height="4" fill="#808080" shape-rendering="crispEdges"/>
<text x="642.8" y="518.5" text-anchor="middle" style="font-size:12px">30</text>
<rect x="642" y="501" width="1" height="4" fill="#808080" shape-rendering="crispEdges"/>
<text x="658.5" y="518.5" text-anchor="middle" style="font-size:12px">31</text>
<rect x="658" y="501" width="1" height="4" fill="#808080" shape-rendering="crispEdges"/>
</g>
<rect x="317" y="496" width="1" height="12" fill="#000" shape-rendering="crispEdges"/>
<circle cx="317.5" cy="525.5" r="5" fill="#fff" stroke="#000" stroke-width="1"/>
<rect x="540" y="496" width="1" height="12" fill="#000" shape-rendering="crispEdges"/>
<circle cx="540.6" cy="525.5" r="4.7" fill="#000"/>
<path d="M538.6 522.2 A4.2 4.2 0 0 0 538.6 528.8" fill="none" stroke="#fff" stroke-width="0.8"/>
</svg>
<div style="position:absolute;left:1px;top:539px;width:843px;height:76px;background:#C0C0C0;"></div>
<div style="position:absolute;left:844px;top:538px;width:1px;height:77px;background:#A09C88;"></div>
<div style="position:absolute;left:87px;top:539px;width:1px;height:76px;background:#fff;"></div>
<div style="position:absolute;left:88px;top:539px;width:1px;height:76px;background:#A8A498;"></div>
<div style="position:absolute;left:204px;top:539px;width:1px;height:76px;background:#fff;"></div>
<div style="position:absolute;left:205px;top:539px;width:1px;height:76px;background:#A8A498;"></div>
<div style="position:absolute;left:322px;top:539px;width:1px;height:76px;background:#fff;"></div>
<div style="position:absolute;left:323px;top:539px;width:1px;height:76px;background:#A8A498;"></div>
<div style="position:absolute;left:440px;top:539px;width:1px;height:76px;background:#fff;"></div>
<div style="position:absolute;left:441px;top:539px;width:1px;height:76px;background:#A8A498;"></div>
<div style="position:absolute;left:558px;top:539px;width:1px;height:76px;background:#fff;"></div>
<div style="position:absolute;left:559px;top:539px;width:1px;height:76px;background:#A8A498;"></div>
<div style="position:absolute;left:676px;top:539px;width:1px;height:76px;background:#fff;"></div>
<div style="position:absolute;left:677px;top:539px;width:1px;height:76px;background:#A8A498;"></div>
<div style="position:absolute;left:794px;top:539px;width:1px;height:76px;background:#fff;"></div>
<div style="position:absolute;left:795px;top:539px;width:1px;height:76px;background:#A8A498;"></div>
<div class="t b" style="left:8.4px;top:545px;">Sensor</div>
<div class="t b" style="left:8.4px;top:561px;">MinWert</div>
<div class="t b" style="left:8.4px;top:577px;">MaxWert</div>
<div class="t b" style="left:8.4px;top:593px;">Durchschnitt</div>
<div class="t b" style="left:8.4px;top:609px;">31.07.</div>
<div class="t b" style="left:95.0px;top:545px;">T- 2m aktiv</div>
<div class="t b r" style="left:98px;top:545px;width:100px;">°C</div>
<div class="t" style="left:95.0px;top:561px;">13.07.  06:05</div>
<div class="t r" style="left:98px;top:561px;width:100px;">10.7</div>
<div class="t" style="left:95.0px;top:577px;">19.07.  15:45</div>
<div class="t r" style="left:98px;top:577px;width:100px;">35.8</div>
<div class="t" style="left:100.0px;top:593px;">(+ 2.31 )</div>
<div class="t r" style="left:96px;top:593px;width:100px;">21.81</div>
<div class="t b r" style="left:98px;top:609px;width:100px;">22.4</div>
<div class="t b" style="left:213.0px;top:545px;">F- 2m aktiv</div>
<div class="t b r" style="left:216px;top:545px;width:100px;">%</div>
<div class="t" style="left:213.0px;top:561px;">06.07.  16:35</div>
<div class="t r" style="left:216px;top:561px;width:100px;">30</div>
<div class="t" style="left:213.0px;top:577px;">27.07.  08:25</div>
<div class="t r" style="left:216px;top:577px;width:100px;">97</div>
<div class="t r" style="left:216px;top:593px;width:100px;">70</div>
<div class="t" style="left:215.0px;top:609px;">16.29  g/m³</div>
<div class="t b r" style="left:216px;top:609px;width:100px;">77</div>
<div class="t b" style="left:330.0px;top:545px;">Luftdruck</div>
<div class="t b r" style="left:334px;top:545px;width:100px;">hPa</div>
<div class="t" style="left:330.0px;top:561px;">26.07.  01:25</div>
<div class="t r" style="left:334px;top:561px;width:100px;">1004.7</div>
<div class="t" style="left:330.0px;top:577px;">16.07.  10:45</div>
<div class="t r" style="left:334px;top:577px;width:100px;">1023.9</div>
<div class="t r" style="left:334px;top:593px;width:100px;">1013.4</div>
<div class="t b r" style="left:334px;top:609px;width:100px;">1012.7</div>
<div class="t b" style="left:448.0px;top:545px;">Windböen</div>
<div class="t b r" style="left:452px;top:545px;width:100px;">km/h</div>
<div class="t" style="left:448.0px;top:561px;">01.07.  00:05</div>
<div class="t r" style="left:452px;top:561px;width:100px;">0.0</div>
<div class="t" style="left:448.0px;top:577px;">07.07.  01:S-SW</div>
<div class="t r" style="left:452px;top:577px;width:100px;">30.6</div>
<div class="t r" style="left:452px;top:593px;width:100px;">4.1</div>
<div class="t" style="left:452.0px;top:609px;">1.8% S-SO</div>
<div class="t b r" style="left:452px;top:609px;width:100px;">3.8</div>
<div class="t b" style="left:566.0px;top:545px;">Regen</div>
<div class="t b r" style="left:570px;top:545px;width:100px;">l/m²</div>
<div class="t" style="left:566.0px;top:561px;">Regentage: 30</div>
<div class="t" style="left:566.0px;top:577px;">25.07.  16:10</div>
<div class="t r" style="left:570px;top:577px;width:100px;">25.4</div>
<div class="t" style="left:566.0px;top:593px;">Gesamt:</div>
<div class="t r" style="left:570px;top:593px;width:100px;">77.8</div>
<div class="t" style="left:568.0px;top:609px;">77.8 l/m²</div>
<div class="t b r" style="left:570px;top:609px;width:100px;">0.2</div>
<div class="t b" style="left:684.0px;top:545px;">PMV+3:30</div>
<div class="t" style="left:684.0px;top:561px;">WC 23.4 °C</div>
<div class="t" style="left:684.0px;top:577px;">TP 19.1 °C</div>
</div></body></html>
